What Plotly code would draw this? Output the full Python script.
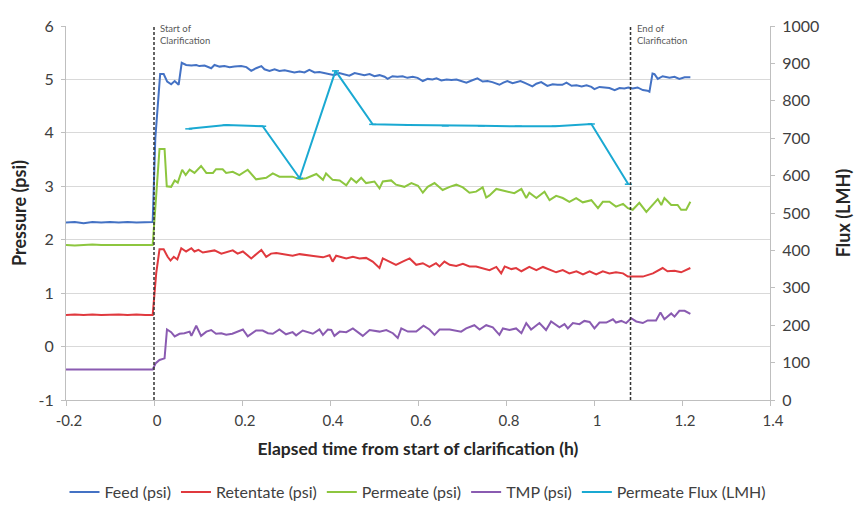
import plotly.graph_objects as go

# ---------------- data ----------------
pre_t = [-0.2, -0.18, -0.16, -0.14, -0.12, -0.10, -0.08, -0.06, -0.04, -0.02, -0.003]
feed_pre = [2.32, 2.33, 2.31, 2.33, 2.32, 2.33, 2.32, 2.33, 2.32, 2.33, 2.33]
ret_pre = [0.59, 0.60, 0.59, 0.60, 0.59, 0.60, 0.60, 0.59, 0.60, 0.59, 0.59]
perm_pre = [1.90, 1.89, 1.90, 1.91, 1.90, 1.90, 1.91, 1.90, 1.90, 1.91, 1.90]
tmp_pre = [-0.43, -0.43, -0.42, -0.43, -0.43, -0.42, -0.43, -0.43, -0.42, -0.43, -0.43]

feed_t = [0.003, 0.014, 0.022, 0.030, 0.039, 0.047, 0.056, 0.063, 0.073, 0.085, 0.096,
          0.103, 0.115, 0.130, 0.1375, 0.149, 0.160, 0.172, 0.183, 0.198, 0.210, 0.221,
          0.232, 0.244, 0.251, 0.2625, 0.274, 0.285, 0.297, 0.308, 0.319, 0.331, 0.342,
          0.353, 0.365, 0.376, 0.388, 0.399, 0.410, 0.421, 0.433, 0.444, 0.456, 0.467,
          0.478, 0.490, 0.501, 0.5125, 0.524, 0.531, 0.542, 0.553, 0.565, 0.576, 0.588,
          0.599, 0.611, 0.622, 0.633, 0.642, 0.653, 0.665, 0.676, 0.6875, 0.699, 0.710,
          0.722, 0.735, 0.747, 0.758, 0.769, 0.785, 0.794, 0.803, 0.815, 0.826, 0.833,
          0.844, 0.860, 0.869, 0.880, 0.894, 0.906, 0.917, 0.928, 0.9375, 0.949, 0.960,
          0.972, 0.983, 0.994, 1.001, 1.0125, 1.024, 1.035, 1.047, 1.058, 1.069, 1.078,
          1.088, 1.099, 1.111, 1.1216, 1.126, 1.133, 1.1375, 1.145, 1.156, 1.165, 1.1716,
          1.183, 1.194, 1.206, 1.219]
feed = [3.90, 5.10, 5.10, 4.96, 4.91, 4.97, 4.90, 5.31, 5.27, 5.26, 5.27,
        5.25, 5.26, 5.21, 5.27, 5.24, 5.25, 5.23, 5.24, 5.25, 5.23, 5.16,
        5.21, 5.25, 5.19, 5.16, 5.19, 5.16, 5.17, 5.15, 5.13, 5.15, 5.13,
        5.18, 5.13, 5.14, 5.12, 5.10, 5.08, 5.12, 5.10, 5.07, 5.12, 5.10,
        5.08, 5.10, 5.06, 5.08, 5.05, 5.01, 5.06, 5.05, 5.06, 5.03, 5.05,
        5.03, 4.97, 5.01, 5.00, 5.02, 4.98, 5.00, 4.99, 5.00, 4.97, 4.94,
        4.98, 5.02, 4.96, 4.97, 4.95, 4.90, 4.94, 4.97, 4.93, 4.95, 4.97,
        4.93, 4.87, 4.92, 4.95, 4.88, 4.91, 4.90, 4.90, 4.94, 4.88, 4.89,
        4.87, 4.89, 4.86, 4.82, 4.86, 4.85, 4.84, 4.80, 4.84, 4.83, 4.85,
        4.83, 4.85, 4.80, 4.79, 4.77, 5.11, 5.10, 5.01, 5.06, 5.04, 5.03,
        5.05, 5.01, 5.04, 5.04]

perm_t = [0.0125, 0.024, 0.029, 0.039, 0.047, 0.054, 0.064, 0.072, 0.081, 0.092, 0.107,
          0.119, 0.134, 0.141, 0.156, 0.164, 0.179, 0.194, 0.213, 0.232, 0.255, 0.270,
          0.285, 0.315, 0.331, 0.346, 0.369, 0.384, 0.391, 0.406, 0.422, 0.437, 0.448,
          0.460, 0.471, 0.482, 0.501, 0.5125, 0.520, 0.539, 0.550, 0.569, 0.585, 0.600,
          0.611, 0.622, 0.6375, 0.656, 0.672, 0.687, 0.702, 0.717, 0.732, 0.747, 0.755,
          0.7625, 0.778, 0.800, 0.819, 0.835, 0.846, 0.853, 0.869, 0.8875, 0.899, 0.914,
          0.929, 0.944, 0.9595, 0.9745, 0.994, 1.009, 1.020, 1.035, 1.050, 1.066, 1.077,
          1.088, 1.103, 1.119, 1.134, 1.145, 1.153, 1.160, 1.1755, 1.190, 1.198, 1.2095,
          1.219]
perm = [3.70, 3.70, 3.00, 2.99, 3.11, 3.07, 3.31, 3.21, 3.31, 3.25, 3.38,
        3.25, 3.25, 3.32, 3.32, 3.25, 3.27, 3.21, 3.31, 3.13, 3.16, 3.24,
        3.18, 3.18, 3.13, 3.15, 3.23, 3.12, 3.24, 3.12, 3.11, 3.02, 3.15,
        3.07, 3.16, 3.06, 3.09, 2.96, 3.09, 3.11, 3.03, 2.99, 3.06, 3.01,
        2.88, 2.99, 3.06, 2.93, 2.99, 3.03, 2.98, 2.88, 2.90, 2.98, 2.79,
        2.83, 2.95, 2.91, 2.87, 2.95, 2.78, 2.88, 2.78, 2.90, 2.74, 2.82,
        2.78, 2.71, 2.78, 2.70, 2.74, 2.59, 2.71, 2.71, 2.62, 2.67, 2.59,
        2.56, 2.69, 2.52, 2.65, 2.76, 2.65, 2.78, 2.65, 2.65, 2.56, 2.56,
        2.71]

ret_t = [0.005, 0.0125, 0.022, 0.031, 0.0375, 0.045, 0.053, 0.062, 0.073, 0.085, 0.092,
         0.101, 0.111, 0.122, 0.1375, 0.153, 0.168, 0.179, 0.190, 0.202, 0.221, 0.232,
         0.244, 0.255, 0.266, 0.278, 0.297, 0.315, 0.331, 0.346, 0.365, 0.384, 0.399,
         0.406, 0.414, 0.437, 0.452, 0.467, 0.482, 0.497, 0.5125, 0.520, 0.535, 0.550,
         0.565, 0.581, 0.596, 0.611, 0.626, 0.641, 0.649, 0.660, 0.672, 0.687, 0.702,
         0.717, 0.732, 0.747, 0.7625, 0.778, 0.789, 0.797, 0.812, 0.823, 0.835, 0.853,
         0.869, 0.884, 0.903, 0.914, 0.929, 0.944, 0.960, 0.975, 0.990, 1.005, 1.020,
         1.035, 1.050, 1.066, 1.077, 1.088, 1.111, 1.134, 1.156, 1.167, 1.183, 1.198,
         1.208, 1.219]
ret = [1.37, 1.82, 1.82, 1.68, 1.61, 1.68, 1.63, 1.84, 1.78, 1.84, 1.78,
       1.81, 1.76, 1.78, 1.80, 1.74, 1.78, 1.80, 1.74, 1.78, 1.65, 1.72,
       1.81, 1.68, 1.74, 1.75, 1.72, 1.70, 1.73, 1.71, 1.69, 1.67, 1.71,
       1.59, 1.70, 1.65, 1.68, 1.65, 1.66, 1.59, 1.47, 1.65, 1.59, 1.53,
       1.59, 1.65, 1.53, 1.56, 1.49, 1.56, 1.50, 1.59, 1.53, 1.51, 1.55,
       1.50, 1.50, 1.47, 1.43, 1.49, 1.37, 1.50, 1.45, 1.47, 1.41, 1.49,
       1.43, 1.49, 1.42, 1.39, 1.43, 1.37, 1.41, 1.35, 1.41, 1.35, 1.41,
       1.37, 1.39, 1.37, 1.31, 1.31, 1.31, 1.37, 1.47, 1.41, 1.42, 1.39,
       1.43, 1.47]

tmp_t = [0.004, 0.0125, 0.024, 0.0295, 0.039, 0.047, 0.058, 0.069, 0.081, 0.085, 0.096,
         0.107, 0.119, 0.130, 0.141, 0.153, 0.164, 0.178, 0.202, 0.213, 0.232, 0.247,
         0.259, 0.270, 0.285, 0.300, 0.315, 0.323, 0.338, 0.361, 0.376, 0.384, 0.395,
         0.403, 0.410, 0.422, 0.437, 0.452, 0.4745, 0.490, 0.5125, 0.528, 0.543, 0.554,
         0.562, 0.577, 0.596, 0.6125, 0.626, 0.6375, 0.649, 0.672, 0.698, 0.7095, 0.728,
         0.740, 0.755, 0.770, 0.785, 0.793, 0.808, 0.823, 0.835, 0.846, 0.857, 0.876,
         0.891, 0.9025, 0.9215, 0.933, 0.9405, 0.952, 0.967, 0.978, 0.990, 1.001, 1.0125,
         1.028, 1.043, 1.050, 1.062, 1.073, 1.0845, 1.096, 1.111, 1.122, 1.141, 1.151,
         1.160, 1.1755, 1.183, 1.194, 1.206, 1.219]
tmp = [-0.31, -0.25, -0.22, 0.32, 0.27, 0.19, 0.24, 0.25, 0.28, 0.20, 0.39,
       0.20, 0.28, 0.31, 0.24, 0.25, 0.22, 0.24, 0.32, 0.19, 0.30, 0.30,
       0.25, 0.24, 0.32, 0.23, 0.27, 0.21, 0.30, 0.24, 0.32, 0.22, 0.32,
       0.31, 0.20, 0.28, 0.27, 0.34, 0.20, 0.31, 0.28, 0.31, 0.25, 0.16,
       0.34, 0.28, 0.28, 0.39, 0.32, 0.22, 0.32, 0.32, 0.28, 0.34, 0.40,
       0.32, 0.40, 0.36, 0.22, 0.34, 0.31, 0.34, 0.25, 0.44, 0.32, 0.44,
       0.31, 0.47, 0.36, 0.42, 0.34, 0.44, 0.42, 0.48, 0.46, 0.34, 0.45,
       0.45, 0.51, 0.45, 0.48, 0.44, 0.53, 0.47, 0.44, 0.49, 0.49, 0.64,
       0.51, 0.62, 0.56, 0.67, 0.67, 0.61]

flux_t = [0.079, 0.164, 0.247, 0.331, 0.4125, 0.497, 0.578, 0.662, 0.744, 0.828, 0.912, 0.994, 1.078]
flux = [725, 735, 732, 593, 880, 737, 735, 733, 733, 732, 732, 738, 577]

start_x = 0.0
end_x = 1.083

x_ticks = [-0.2, 0, 0.2, 0.4, 0.6, 0.8, 1, 1.2, 1.4]
x_labels = ["-0.2", "0", "0.2", "0.4", "0.6", "0.8", "1", "1.2", "1.4"]
y_ticks = [-1, 0, 1, 2, 3, 4, 5, 6]
y_labels = ["-1", "0", "1", "2", "3", "4", "5", "6"]

# ---------------- figure ----------------
FONT = "Lato, 'Open Sans', sans-serif"
colors = {
    "feed": "#4472C4",
    "ret": "#E0393E",
    "perm": "#8DC63F",
    "tmp": "#8A5BB1",
    "flux": "#1AA9D2",
}

fig = go.Figure()

def add(name, t, v, col, yaxis="y"):
    fig.add_trace(go.Scatter(x=t, y=v, name=name, mode="lines",
                             line=dict(color=col, width=2), yaxis=yaxis))

add("Feed (psi)", pre_t + feed_t, feed_pre + feed, colors["feed"])
add("Retentate (psi)", pre_t + ret_t, ret_pre + ret, colors["ret"])
add("Permeate (psi)", pre_t + perm_t, perm_pre + perm, colors["perm"])
add("TMP (psi)", pre_t + tmp_t, tmp_pre + tmp, colors["tmp"])
fig.add_trace(go.Scatter(x=flux_t, y=flux, name="Permeate Flux (LMH)", mode="lines+markers",
                         line=dict(color=colors["flux"], width=2),
                         marker=dict(symbol="line-ew", size=5,
                                     line=dict(color=colors["flux"], width=1.5)),
                         yaxis="y2"))

for xv in (start_x, end_x):
    fig.add_shape(type="line", xref="x", yref="paper", x0=xv, x1=xv, y0=0, y1=1,
                  line=dict(color="#333333", width=1.5, dash="3px,2px"))

for xv, label in ((start_x, "Start of<br>Clarification"), (end_x, "End of<br>Clarification")):
    fig.add_annotation(x=xv, xref="x", y=1, yref="paper", yanchor="top", xanchor="left",
                       xshift=4, yshift=5, text=label, showarrow=False, align="left",
                       font=dict(family=FONT, size=9.5, color="#595959"))

fig.update_layout(
    width=854, height=505,
    margin=dict(l=66, r=84, t=26, b=105, autoexpand=False),
    paper_bgcolor="white", plot_bgcolor="white",
    font=dict(family=FONT, color="#262626"),
    showlegend=True,
    legend=dict(orientation="h", x=0.5, xanchor="center", y=-0.246, yanchor="middle",
                font=dict(family=FONT, size=16, color="#404040"), itemwidth=30,
                tracegroupgap=0),
    xaxis=dict(range=[-0.2, 1.4], tickvals=x_ticks, ticktext=x_labels, automargin=False,
               showgrid=False, zeroline=False, showline=True, linecolor="#BFBFBF",
               ticks="outside", ticklen=5, tickcolor="#BFBFBF", ticklabelstandoff=2,
               ticklabelshift=3,
               tickfont=dict(family=FONT, size=15, color="#404040"),
               title=dict(text="<b>Elapsed time from start of clarification (h)</b>",
                          font=dict(family=FONT, size=17.5, color="#262626"), standoff=14)),
    yaxis=dict(range=[-1, 6], tickvals=y_ticks, ticktext=y_labels, automargin=False,
               showgrid=True, gridcolor="#D9D9D9", gridwidth=1, zeroline=False,
               showline=True, linecolor="#BFBFBF", ticks="outside", ticklen=4,
               tickcolor="#BFBFBF", ticklabelstandoff=4,
               tickfont=dict(family=FONT, size=16, color="#404040"),
               title=dict(text="<b>Pressure (psi)</b>",
                          font=dict(family=FONT, size=18, color="#262626"), standoff=7)),
    yaxis2=dict(range=[0, 1000], dtick=100, overlaying="y", side="right", automargin=False,
                showgrid=False, zeroline=False, showline=True, linecolor="#BFBFBF",
                ticks="outside", ticklen=4, tickcolor="#BFBFBF", ticklabelstandoff=4,
                tickfont=dict(family=FONT, size=16, color="#404040"),
                title=dict(text="<b>Flux (LMH)</b>",
                           font=dict(family=FONT, size=18, color="#262626"), standoff=22)),
)

fig.write_html("out.html", config={"displayModeBar": False},
               post_script="document.body.style.margin='0';")
